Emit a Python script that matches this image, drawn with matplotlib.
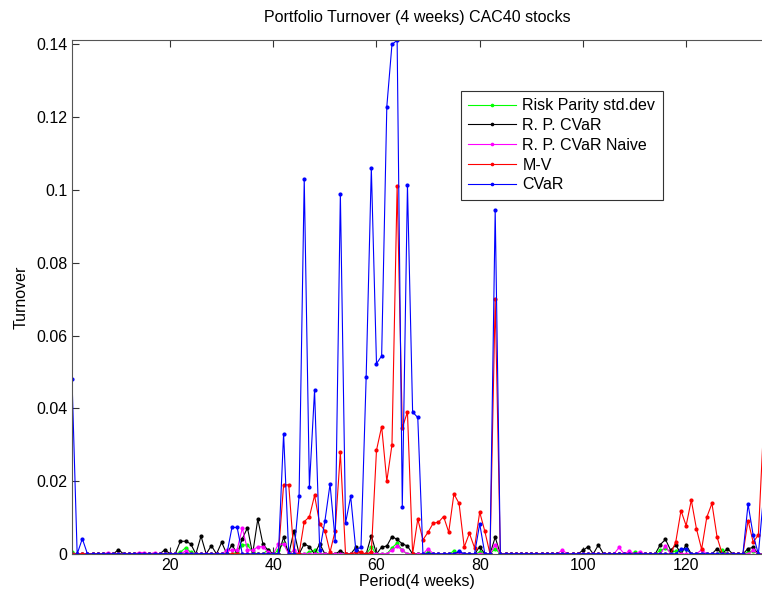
import matplotlib
matplotlib.use("Agg")
import matplotlib.pyplot as plt
from matplotlib.ticker import FuncFormatter

plt.rcParams['font.family'] = ['Liberation Sans', 'DejaVu Sans']

periods = list(range(1, 136))

# Risk Parity std.dev (green)
rp_std = [
    0.0005, 0, 0, 0, 0, 0, 0, 0, 0, 0,
    0, 0, 0, 0, 0, 0, 0, 0, 0, 0,
    0, 0.0005, 0.0017, 0.0005, 0, 0, 0, 0, 0, 0,
    0, 0, 0.0005, 0.0024, 0.0026, 0.0005, 0, 0, 0.0012, 0,
    0.001, 0.003, 0.0005, 0, 0, 0, 0.0005, 0.001, 0, 0,
    0, 0, 0, 0, 0, 0, 0, 0, 0.0019, 0,
    0, 0, 0.0017, 0.003, 0.001, 0, 0, 0, 0, 0.0005,
    0, 0, 0, 0, 0.0008, 0, 0, 0, 0, 0.0005,
    0, 0, 0.0015, 0, 0, 0, 0, 0, 0, 0,
    0, 0, 0, 0, 0, 0, 0, 0, 0, 0,
    0, 0, 0, 0, 0, 0, 0, 0, 0, 0.0005,
    0, 0, 0, 0, 0.001, 0.0016, 0.0005, 0.0008, 0.0012, 0.0015,
    0, 0, 0, 0, 0, 0, 0.001, 0, 0, 0,
    0, 0.0005, 0.0008, 0, 0,
]

# R. P. CVaR (black)
rp_cvar = [
    0, 0, 0, 0, 0, 0, 0, 0, 0, 0.0012,
    0, 0, 0, 0, 0, 0, 0, 0, 0.0012, 0,
    0, 0.0035, 0.0035, 0.0028, 0, 0.0049, 0, 0.0023, 0, 0.0032,
    0, 0.0026, 0, 0.0042, 0.0072, 0, 0.0096, 0.0027, 0.001, 0,
    0, 0.0046, 0, 0.0063, 0, 0.0028, 0.002, 0, 0.0028, 0,
    0, 0, 0.0009, 0, 0, 0.0018, 0, 0, 0.005, 0,
    0.0019, 0.0022, 0.0048, 0.004, 0.0028, 0.0022, 0, 0, 0, 0,
    0, 0, 0, 0, 0, 0.0005, 0, 0, 0, 0.002,
    0, 0, 0.0046, 0, 0, 0, 0, 0, 0, 0,
    0, 0, 0, 0, 0, 0, 0, 0, 0, 0.001,
    0.002, 0, 0.0025, 0, 0, 0, 0, 0, 0, 0,
    0, 0, 0, 0, 0.0026, 0.004, 0.001, 0.0025, 0, 0.0025,
    0, 0, 0, 0, 0, 0.0015, 0, 0.0015, 0, 0,
    0, 0.0015, 0.0018, 0, 0,
]

# R. P. CVaR Naive (magenta)
rp_naive = [
    0, 0, 0, 0, 0, 0, 0, 0.0004, 0, 0,
    0, 0, 0, 0.0004, 0.0004, 0, 0.0004, 0, 0, 0,
    0, 0, 0.0008, 0, 0, 0, 0, 0, 0, 0,
    0.001, 0.001, 0.0012, 0.0071, 0.0012, 0.001, 0.002, 0.002, 0.0005, 0,
    0.0027, 0.0027, 0, 0.001, 0, 0, 0, 0, 0, 0,
    0, 0, 0, 0, 0, 0, 0, 0, 0.0004, 0,
    0, 0, 0.001, 0.0022, 0.001, 0, 0, 0, 0, 0.0015,
    0, 0, 0, 0, 0, 0, 0, 0, 0, 0,
    0, 0, 0.0026, 0, 0, 0, 0, 0, 0, 0,
    0, 0, 0, 0, 0, 0.0011, 0, 0, 0, 0,
    0, 0, 0, 0, 0, 0, 0.0018, 0, 0.0008, 0,
    0.0006, 0, 0, 0, 0, 0.0022, 0, 0, 0, 0,
    0, 0, 0.0012, 0, 0, 0, 0, 0, 0, 0,
    0, 0, 0.001, 0, 0,
]

# M-V (red)
mv = [
    0, 0, 0, 0, 0, 0, 0, 0, 0, 0,
    0, 0, 0, 0, 0, 0, 0, 0, 0, 0,
    0, 0, 0, 0, 0, 0, 0, 0, 0, 0,
    0, 0, 0, 0, 0, 0, 0, 0, 0, 0,
    0, 0.019, 0.019, 0, 0, 0.0089, 0.0102, 0.0161, 0.0083, 0.0064,
    0.0005, 0.0064, 0.0279, 0, 0, 0.0005, 0.0005, 0, 0.0005, 0.0285,
    0.035, 0.020, 0.030, 0.1011, 0.0347, 0.039, 0, 0.0096, 0.0039, 0.006,
    0.0085, 0.0087, 0.0103, 0.006, 0.0165, 0.0139, 0.0019, 0.0057, 0.0017, 0.0115,
    0.0062, 0, 0.070, 0, 0, 0, 0, 0, 0, 0,
    0, 0, 0, 0, 0, 0, 0, 0, 0, 0,
    0, 0, 0, 0, 0, 0, 0, 0, 0, 0,
    0, 0, 0, 0, 0, 0, 0, 0.0034, 0.0119, 0.0078,
    0.0148, 0.0069, 0.0013, 0.0101, 0.0139, 0.0046, 0, 0, 0, 0,
    0, 0.0092, 0.0032, 0.0053, 0.035,
]

# CVaR (blue)
cvar = [
    0.048, 0, 0.0042, 0, 0, 0, 0, 0, 0, 0,
    0, 0, 0, 0, 0, 0, 0, 0, 0, 0,
    0, 0, 0, 0, 0, 0, 0, 0, 0, 0,
    0, 0.0073, 0.0073, 0, 0, 0, 0, 0, 0, 0,
    0, 0.0331, 0, 0, 0.0158, 0.103, 0.0185, 0.045, 0.001, 0.009,
    0.0192, 0.0037, 0.099, 0.0085, 0.0158, 0.001, 0.0019, 0.0486, 0.106, 0.0523,
    0.0544, 0.1229, 0.1400, 0.1411, 0.013, 0.1013, 0.039, 0.0375, 0, 0,
    0, 0, 0, 0, 0, 0.0008, 0, 0, 0, 0.0083,
    0, 0, 0.0946, 0, 0, 0, 0, 0, 0, 0,
    0, 0, 0, 0, 0, 0, 0, 0, 0, 0,
    0, 0, 0, 0, 0, 0, 0, 0, 0, 0,
    0, 0, 0, 0, 0, 0, 0, 0, 0.0014, 0.0014,
    0, 0, 0, 0, 0, 0, 0, 0, 0, 0,
    0, 0.0137, 0.0051, 0, 0.016,
]

series = [
    ("Risk Parity std.dev", rp_std, (0, 1, 0)),
    ("R. P. CVaR", rp_cvar, (0, 0, 0)),
    ("R. P. CVaR Naive", rp_naive, (1, 0, 1)),
    ("M-V", mv, (1, 0, 0)),
    ("CVaR", cvar, (0, 0, 1)),
]

FS = 11.5

fig = plt.figure(figsize=(7.62, 5.94), dpi=100)
ax = fig.add_axes([72 / 762, 1 - 554 / 594, 690 / 762, 514 / 594])

for name, vals, col in series:
    ax.plot(periods, vals, '-', marker='.', color=col, lw=0.8, ms=4, label=name)

ax.set_xlim(1, 134.7)
ax.set_ylim(0, 0.1412)
ax.set_xticks([20, 40, 60, 80, 100, 120])
ax.set_yticks([0, 0.02, 0.04, 0.06, 0.08, 0.1, 0.12, 0.14])
ax.yaxis.set_major_formatter(FuncFormatter(lambda v, p: '%g' % round(v, 4)))
ax.tick_params(direction='in', top=True, right=False, length=5, width=0.8,
               labelsize=FS, colors='#333333', labelcolor='black')
ax.tick_params(axis='x', pad=3)
for s in ax.spines.values():
    s.set_color('#555555')
    s.set_linewidth(0.8)
ax.spines['right'].set_visible(False)

ax.set_title("Portfolio Turnover (4 weeks) CAC40 stocks", fontsize=FS, pad=13)
ax.set_xlabel("Period(4 weeks)", fontsize=FS, labelpad=0.5)
ax.set_ylabel("Turnover", fontsize=FS, labelpad=5)

leg = ax.legend(loc='upper left', bbox_to_anchor=((461 - 72) / 690, 1 - (91 - 40) / 514),
                fontsize=FS, frameon=True, fancybox=False, handlelength=3.0,
                borderaxespad=0, borderpad=0.45, labelspacing=0.3, handletextpad=0.4,
                markerscale=0.8)
leg.get_frame().set_edgecolor('#333333')
leg.get_frame().set_linewidth(0.8)
leg.get_frame().set_alpha(1)

fig.savefig("out.png", dpi=100)
